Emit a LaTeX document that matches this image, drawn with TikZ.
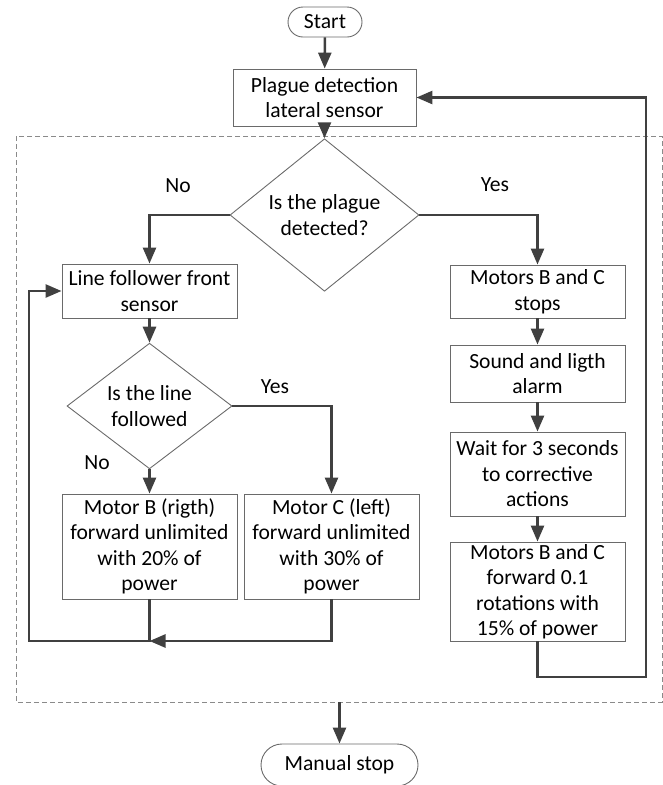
\documentclass[tikz,border=0pt]{standalone}
\usepackage{fontspec}
\setmainfont{Carlito}
\usetikzlibrary{arrows.meta,shapes.geometric}
\definecolor{conncol}{HTML}{404040}
\definecolor{boxcol}{HTML}{6A6A6A}
\definecolor{dashcol}{HTML}{8A8A8A}
\tikzset{
  base/.style={draw=boxcol, line width=0.9pt, inner sep=0pt, align=center, font=\fontsize{21.6}{25.5}\selectfont},
  procbox/.style={base, rectangle, minimum width=175pt},
  decbox/.style={base, diamond},
  termbox/.style={base, rectangle, rounded corners=15pt},
  conn/.style={draw=conncol, line width=2.6pt, -{Triangle[length=16pt,width=13pt]}},
  lbl/.style={font=\fontsize{21.6}{25.5}\selectfont, inner sep=0pt}
}
\begin{document}
\begin{tikzpicture}[x=1pt,y=-1pt]
\useasboundingbox (0,0) rectangle (663,785);
% dashed frame
\draw[dashcol, line width=1pt, dash pattern=on 5pt off 3pt] (16,136) rectangle (662,702);

\node[termbox, minimum width=74pt, minimum height=30pt] (start) at (325,22) {Start};
\node[procbox, minimum width=183pt, minimum height=57pt] (plague) at (324.5,97.5) {Plague detection\\lateral sensor};
\node[decbox, minimum width=189pt, minimum height=114pt] (d1) at (324.5,215) {Is the plague\\detected?};
\node[procbox, minimum height=54pt] (linef) at (149.5,291) {Line follower front\\sensor};
\node[decbox, minimum width=165pt, minimum height=98pt] (d2) at (149.5,406) {Is the line\\followed};
\node[procbox, minimum height=105pt] (motorB) at (149.5,546.5) {Motor B (rigth)\\forward unlimited\\with 20\% of\\power};
\node[procbox, minimum height=105pt] (motorC) at (331.5,546.5) {Motor C (left)\\forward unlimited\\with 30\% of\\power};
\node[procbox, minimum height=53pt] (stops) at (537.5,291.5) {Motors B and C\\stops};
\node[procbox, minimum height=57pt] (sound) at (537.5,373.5) {Sound and ligth\\alarm};
\node[procbox, minimum height=84pt] (wait) at (537.5,474) {Wait for 3 seconds\\to corrective\\actions};
\node[procbox, minimum height=99pt] (fwd) at (537.5,591.5) {Motors B and C\\forward 0.1\\rotations with\\15\% of power};
\node[termbox, minimum width=157pt, minimum height=42pt, rounded corners=21pt] (manual) at (339.5,765) {Manual stop};

% labels
\node[lbl] (no1) at (178,186) {No};
\node[lbl] (yes1) at (495,185) {Yes};
\node[lbl] (yes2) at (275,387) {Yes};
\node[lbl] (no2) at (97,463) {No};

% coordinates
\coordinate (rb) at (646,677);
\coordinate (mj) at (149.5,641);
\coordinate (lb) at (29,641);
\coordinate (db) at (339.5,702);

% connectors
\draw[conn] (start) -- (plague);
\draw[conn] (plague) -- (d1);
\draw[conn] (d1.west) -| (linef.north);
\draw[conn] (d1.east) -| (stops.north);
\draw[conn] (stops) -- (sound);
\draw[conn] (sound) -- (wait);
\draw[conn] (wait) -- (fwd);
\draw[conn] (fwd.south) |- (rb) |- (plague.east);
\draw[conn] (linef) -- (d2);
\draw[conn] (d2.east) -| (motorC.north);
\draw[conn] (d2.south) -- (motorB.north);
\draw[conn] (motorC.south) |- (mj);
\draw[conn] (motorB.south) -- (mj) -- (lb) |- (linef.west);
\draw[conn] (db) -- (manual.north);
\end{tikzpicture}
\end{document}
